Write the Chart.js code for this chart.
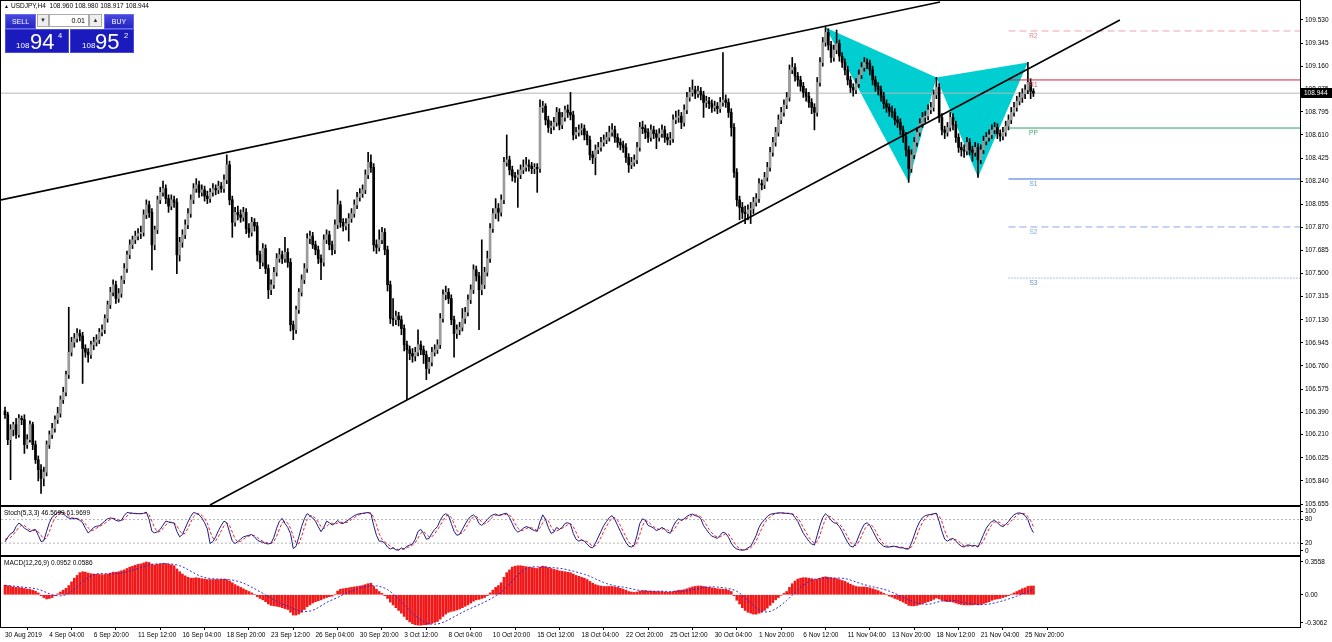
<!DOCTYPE html>
<html>
<head>
<meta charset="utf-8">
<script src="https://cdn.jsdelivr.net/npm/chart.js@4.4.1/dist/chart.umd.min.js"></script>
<style>
  body { margin: 0; background: #fff; width: 1332px; height: 642px; overflow: hidden; position: relative; font-family: "Liberation Sans", Arial, sans-serif; }
  .pane { position: absolute; left: 0; line-height: 0; }
  .pane canvas { display: block; }
  .txt { position: absolute; font-size: 6.5px; color: #000; white-space: nowrap; line-height: 1; }
  .btn { position: absolute; background: linear-gradient(#4646e0, #2525bf); color: #fff; font-size: 7px; text-align: center; line-height: 14px; border: 1px solid #6a6ae8; box-sizing: border-box; }
  .spin { position: absolute; background: #eee; border: 1px solid #aaa; box-sizing: border-box; font-size: 6px; text-align: center; line-height: 11px; color: #333; }
  .lot { position: absolute; background: #fff; border: 1px solid #aaa; box-sizing: border-box; font-size: 7px; text-align: right; line-height: 11px; padding-right: 3px; }
  .px { position: absolute; background: #1b1bbd; border: 1px solid #4a4ad8; box-sizing: border-box; color: #fff; }
  .px span { position: absolute; line-height: 1; }
  .px .s { font-size: 8px; top: 12px; }
  .px .b { font-size: 22px; top: 1px; }
  .px .u { font-size: 7.5px; top: 2px; }
</style>
</head>
<body>
<div class="pane" style="top:0;"><canvas id="mainChart" width="1332" height="506"></canvas></div>
<div class="pane" style="top:506px;"><canvas id="stochChart" width="1332" height="50"></canvas></div>
<div class="pane" style="top:556px;"><canvas id="macdChart" width="1332" height="86"></canvas></div>

<div class="txt" style="left:4px;top:4px;font-size:5px;">▲</div>
<div class="txt" style="left:11px;top:3px;">USDJPY,H4&nbsp; 108.960 108.980 108.917 108.944</div>
<div class="btn" style="left:5px;top:14px;width:31px;height:15px;">SELL</div>
<div class="spin" style="left:37px;top:14px;width:12px;height:13px;">▼</div>
<div class="lot" style="left:49px;top:14px;width:40px;height:13px;">0.01</div>
<div class="spin" style="left:89px;top:14px;width:13px;height:13px;">▲</div>
<div class="btn" style="left:104px;top:14px;width:30px;height:15px;">BUY</div>
<div class="px" style="left:5px;top:29px;width:64px;height:24px;"><span class="s" style="left:10px;">108</span><span class="b" style="left:24px;">94</span><span class="u" style="left:52px;">4</span></div>
<div class="px" style="left:70px;top:29px;width:64px;height:24px;"><span class="s" style="left:11px;">108</span><span class="b" style="left:24px;">95</span><span class="u" style="left:53px;">2</span></div>

<div class="txt" style="left:4px;top:510px;">Stoch(5,3,3) 46.5699 61.9699</div>
<div class="txt" style="left:4px;top:560px;">MACD(12,26,9) 0.0952 0.0586</div>

<script>
// USDJPY H4, 30 Aug 2019 12:00 .. 26 Nov 2019 08:00, one value per bar
const openPx = [
  106.40,106.37,106.17,106.25,106.29,106.21,106.34,106.33,106.13,106.17,
  106.29,106.13,106.01,105.93,105.86,105.91,106.13,106.21,106.26,106.33,
  106.38,106.49,106.55,106.69,106.87,106.95,106.98,107.02,107.00,106.90,
  106.87,106.85,106.93,106.95,106.97,107.03,107.05,107.14,107.25,107.35,
  107.41,107.30,107.34,107.45,107.54,107.65,107.73,107.77,107.80,107.82,
  107.83,107.97,108.05,107.99,107.73,107.85,108.09,108.15,108.18,108.10,
  108.04,108.09,108.07,107.65,107.75,107.81,107.89,107.98,108.09,108.18,
  108.21,108.15,108.17,108.12,108.10,108.15,108.18,108.17,108.20,108.18,
  108.25,108.37,108.09,107.91,107.99,107.97,107.95,107.99,107.86,107.83,
  107.91,107.88,107.65,107.59,107.70,107.54,107.37,107.41,107.51,107.62,
  107.65,107.62,107.67,107.59,107.09,107.05,107.21,107.35,107.45,107.54,
  107.78,107.80,107.73,107.69,107.62,107.59,107.77,107.81,107.73,107.69,
  107.89,108.05,107.91,107.88,107.90,107.94,107.98,108.05,108.11,108.14,
  108.17,108.29,108.39,108.35,107.73,107.71,107.77,107.83,107.69,107.41,
  107.14,107.13,107.16,107.13,107.06,106.93,106.89,106.86,106.84,106.87,
  106.93,106.89,106.85,106.74,106.79,106.87,106.89,106.93,107.14,107.33,
  107.35,107.30,107.13,107.02,107.05,107.07,107.14,107.19,107.29,107.37,
  107.53,107.48,107.37,107.41,107.51,107.62,107.86,107.98,108.02,107.99,
  108.09,108.39,108.41,108.33,108.28,108.27,108.29,108.33,108.35,108.37,
  108.36,108.34,108.35,108.34,108.83,108.84,108.73,108.67,108.68,108.71,
  108.79,108.69,108.75,108.81,108.79,108.77,108.61,108.63,108.65,108.66,
  108.61,108.57,108.45,108.43,108.49,108.51,108.55,108.57,108.59,108.63,
  108.65,108.59,108.55,108.53,108.51,108.43,108.37,108.39,108.41,108.51,
  108.67,108.66,108.63,108.59,108.65,108.62,108.59,108.62,108.65,108.59,
  108.57,108.58,108.73,108.75,108.76,108.71,108.81,108.91,108.95,108.97,
  108.94,108.96,108.93,108.87,108.88,108.86,108.83,108.84,108.82,108.87,
  108.89,108.87,108.79,108.67,108.31,108.09,108.03,107.99,107.98,108.01,
  108.02,108.07,108.10,108.22,108.21,108.27,108.35,108.47,108.55,108.63,
  108.73,108.79,108.85,108.91,109.13,109.15,109.08,109.05,109.00,108.95,
  108.92,108.87,108.83,108.79,109.03,109.19,109.35,109.43,109.33,109.23,
  109.29,109.34,109.24,109.19,109.13,109.05,108.99,108.97,109.02,109.09,
  109.15,109.19,109.18,109.13,109.05,109.00,108.97,108.92,108.86,108.83,
  108.80,108.79,108.73,108.71,108.65,108.60,108.49,108.34,108.45,108.55,
  108.63,108.70,108.75,108.76,108.81,108.83,108.93,108.99,108.75,108.65,
  108.63,108.67,108.75,108.69,108.59,108.51,108.49,108.48,108.55,108.49,
  108.47,108.51,108.41,108.49,108.56,108.59,108.61,108.65,108.67,108.62,
  108.60,108.63,108.68,108.73,108.79,108.83,108.88,108.91,108.94,108.97,
  109.03,108.96
];
const highPx = [
  106.43,106.39,106.29,106.31,106.34,106.37,106.36,106.37,106.21,106.32,
  106.31,106.16,106.04,105.97,105.95,106.16,106.24,106.30,106.36,106.43,
  106.52,106.59,106.72,107.23,106.99,107.02,107.06,107.05,107.03,106.93,
  106.90,106.96,106.99,107.01,107.06,107.09,107.17,107.28,107.39,107.45,
  107.44,107.38,107.48,107.58,107.68,107.77,107.80,107.84,107.86,107.88,
  108.01,108.09,108.08,108.02,107.88,108.12,108.19,108.24,108.21,108.13,
  108.13,108.12,108.10,107.79,107.85,107.93,108.02,108.13,108.22,108.26,
  108.24,108.21,108.20,108.16,108.18,108.22,108.21,108.24,108.23,108.29,
  108.45,108.40,108.12,108.03,108.04,108.01,108.03,108.02,107.90,107.95,
  107.94,107.91,107.68,107.74,107.73,107.57,107.45,107.55,107.66,107.70,
  107.68,107.79,107.70,107.62,107.12,107.24,107.38,107.49,107.58,107.82,
  107.84,107.83,107.76,107.72,107.65,107.81,107.85,107.84,107.76,107.93,
  108.17,108.08,107.94,107.94,107.98,108.02,108.09,108.15,108.18,108.21,
  108.33,108.47,108.45,108.38,107.77,107.85,107.87,107.86,107.72,107.44,
  107.30,107.20,107.19,107.16,107.09,106.96,106.92,106.90,106.91,107.05,
  106.96,106.92,106.88,106.83,106.91,106.93,106.97,107.18,107.37,107.40,
  107.38,107.33,107.16,107.09,107.11,107.22,107.23,107.33,107.41,107.57,
  107.56,107.51,107.77,107.55,107.68,107.90,108.02,108.10,108.06,108.13,
  108.43,108.61,108.44,108.36,108.31,108.33,108.37,108.41,108.43,108.41,
  108.39,108.38,108.38,108.89,108.88,108.86,108.76,108.72,108.75,108.83,
  108.82,108.79,108.84,108.85,108.95,108.80,108.67,108.69,108.70,108.69,
  108.64,108.60,108.48,108.53,108.55,108.59,108.61,108.63,108.68,108.70,
  108.68,108.62,108.58,108.56,108.54,108.46,108.43,108.45,108.55,108.71,
  108.72,108.69,108.66,108.69,108.68,108.65,108.66,108.69,108.68,108.62,
  108.63,108.77,108.80,108.81,108.79,108.85,108.95,108.99,109.05,109.00,
  109.00,108.99,108.96,108.92,108.91,108.89,108.88,108.87,108.91,109.27,
  108.93,108.90,108.82,108.70,108.34,108.12,108.07,108.04,108.05,108.07,
  108.11,108.14,108.26,108.25,108.31,108.39,108.51,108.59,108.67,108.77,
  108.83,108.89,108.95,109.17,109.23,109.18,109.11,109.08,109.03,108.98,
  108.95,108.90,108.86,109.07,109.23,109.39,109.47,109.46,109.36,109.33,
  109.45,109.37,109.27,109.22,109.16,109.08,109.02,109.06,109.13,109.19,
  109.23,109.22,109.21,109.16,109.08,109.03,109.00,108.95,108.89,108.86,
  108.84,108.82,108.76,108.74,108.68,108.63,108.52,108.49,108.59,108.67,
  108.74,108.79,108.80,108.85,108.87,108.97,109.07,109.02,108.78,108.68,
  108.71,108.79,108.78,108.72,108.62,108.55,108.53,108.59,108.58,108.52,
  108.55,108.54,108.53,108.60,108.63,108.65,108.69,108.71,108.70,108.65,
  108.67,108.72,108.77,108.83,108.87,108.92,108.95,108.98,109.01,109.19,
  109.06,108.98
];
const lowPx = [
  106.34,106.13,105.85,106.20,106.18,106.19,106.29,106.06,106.10,106.15,
  106.09,105.98,105.84,105.74,105.80,105.88,106.10,106.18,106.23,106.30,
  106.35,106.46,106.52,106.66,106.84,106.91,106.95,106.96,106.62,106.83,
  106.79,106.82,106.89,106.92,106.94,107.00,107.02,107.11,107.22,107.32,
  107.26,107.27,107.31,107.42,107.51,107.62,107.70,107.74,107.77,107.78,
  107.80,107.94,107.95,107.53,107.69,107.82,108.06,108.12,108.06,107.99,
  108.01,108.03,107.50,107.60,107.71,107.78,107.86,107.95,108.06,108.15,
  108.11,108.12,108.08,108.06,108.07,108.12,108.13,108.14,108.15,108.15,
  108.22,108.05,107.79,107.88,107.93,107.91,107.92,107.82,107.79,107.80,
  107.84,107.60,107.54,107.56,107.50,107.30,107.33,107.38,107.48,107.59,
  107.58,107.59,107.55,107.04,106.97,107.02,107.18,107.32,107.42,107.51,
  107.74,107.70,107.65,107.58,107.45,107.56,107.74,107.69,107.65,107.66,
  107.86,107.87,107.84,107.85,107.76,107.91,107.95,108.02,108.08,108.11,
  108.14,108.26,108.31,107.68,107.66,107.68,107.74,107.65,107.36,107.10,
  107.08,107.09,107.08,107.01,106.88,106.49,106.81,106.79,106.80,106.84,
  106.85,106.78,106.65,106.70,106.76,106.84,106.86,106.90,107.11,107.29,
  107.26,107.09,106.83,106.98,107.01,107.04,107.10,107.16,107.26,107.34,
  107.44,107.05,107.33,107.38,107.48,107.59,107.83,107.94,107.92,107.96,
  108.06,108.36,108.29,108.24,108.23,108.03,108.26,108.30,108.32,108.32,
  108.30,108.30,108.15,108.31,108.79,108.69,108.63,108.62,108.65,108.68,
  108.65,108.66,108.72,108.75,108.73,108.57,108.58,108.60,108.61,108.57,
  108.53,108.41,108.38,108.29,108.46,108.48,108.52,108.54,108.56,108.60,
  108.55,108.51,108.49,108.47,108.39,108.31,108.34,108.36,108.38,108.48,
  108.62,108.58,108.55,108.56,108.58,108.50,108.56,108.59,108.55,108.53,
  108.53,108.55,108.70,108.71,108.66,108.68,108.78,108.88,108.92,108.90,
  108.91,108.89,108.75,108.83,108.82,108.79,108.80,108.78,108.79,108.84,
  108.83,108.75,108.60,108.27,108.04,107.93,107.94,107.90,107.93,107.90,
  107.98,108.04,108.07,108.17,108.18,108.24,108.32,108.44,108.52,108.60,
  108.70,108.76,108.82,108.88,109.10,109.04,109.00,108.96,108.91,108.88,
  108.83,108.78,108.65,108.76,109.00,109.16,109.32,109.29,109.19,109.20,
  109.26,109.20,109.15,109.09,109.01,108.95,108.92,108.94,108.99,109.06,
  109.12,109.14,109.09,109.01,108.96,108.93,108.88,108.82,108.79,108.76,
  108.75,108.69,108.67,108.61,108.55,108.44,108.23,108.31,108.42,108.52,
  108.60,108.67,108.71,108.73,108.78,108.80,108.90,108.71,108.61,108.58,
  108.60,108.64,108.65,108.55,108.47,108.44,108.43,108.45,108.45,108.40,
  108.44,108.27,108.38,108.46,108.53,108.56,108.58,108.62,108.58,108.56,
  108.57,108.60,108.65,108.70,108.76,108.80,108.85,108.87,108.90,108.94,
  108.90,108.917
];
const closePx = [
  106.37,106.17,106.25,106.29,106.21,106.34,106.33,106.13,106.17,106.29,
  106.13,106.01,105.93,105.86,105.91,106.13,106.21,106.26,106.33,106.38,
  106.49,106.55,106.69,106.87,106.95,106.98,107.02,107.00,106.90,106.87,
  106.85,106.93,106.95,106.97,107.03,107.05,107.14,107.25,107.35,107.41,
  107.30,107.34,107.45,107.54,107.65,107.73,107.77,107.80,107.82,107.83,
  107.97,108.05,107.99,107.73,107.85,108.09,108.15,108.18,108.10,108.04,
  108.09,108.07,107.65,107.75,107.81,107.89,107.98,108.09,108.18,108.21,
  108.15,108.17,108.12,108.10,108.15,108.18,108.17,108.20,108.18,108.25,
  108.37,108.09,107.91,107.99,107.97,107.95,107.99,107.86,107.83,107.91,
  107.88,107.65,107.59,107.70,107.54,107.37,107.41,107.51,107.62,107.65,
  107.62,107.67,107.59,107.09,107.05,107.21,107.35,107.45,107.54,107.78,
  107.80,107.73,107.69,107.62,107.59,107.77,107.81,107.73,107.69,107.89,
  108.05,107.91,107.88,107.90,107.94,107.98,108.05,108.11,108.14,108.17,
  108.29,108.39,108.35,107.73,107.71,107.77,107.83,107.69,107.41,107.14,
  107.13,107.16,107.13,107.06,106.93,106.89,106.86,106.84,106.87,106.93,
  106.89,106.85,106.74,106.79,106.87,106.89,106.93,107.14,107.33,107.35,
  107.30,107.13,107.02,107.05,107.07,107.14,107.19,107.29,107.37,107.53,
  107.48,107.37,107.41,107.51,107.62,107.86,107.98,108.02,107.99,108.09,
  108.39,108.41,108.33,108.28,108.27,108.29,108.33,108.35,108.37,108.36,
  108.34,108.35,108.34,108.83,108.84,108.73,108.67,108.68,108.71,108.79,
  108.69,108.75,108.81,108.79,108.77,108.61,108.63,108.65,108.66,108.61,
  108.57,108.45,108.43,108.49,108.51,108.55,108.57,108.59,108.63,108.65,
  108.59,108.55,108.53,108.51,108.43,108.37,108.39,108.41,108.51,108.67,
  108.66,108.63,108.59,108.65,108.62,108.59,108.62,108.65,108.59,108.57,
  108.58,108.73,108.75,108.76,108.71,108.81,108.91,108.95,108.97,108.94,
  108.96,108.93,108.87,108.88,108.86,108.83,108.84,108.82,108.87,108.89,
  108.87,108.79,108.67,108.31,108.09,108.03,107.99,107.98,108.01,108.02,
  108.07,108.10,108.22,108.21,108.27,108.35,108.47,108.55,108.63,108.73,
  108.79,108.85,108.91,109.13,109.15,109.08,109.05,109.00,108.95,108.92,
  108.87,108.83,108.79,109.03,109.19,109.35,109.43,109.33,109.23,109.29,
  109.34,109.24,109.19,109.13,109.05,108.99,108.97,109.02,109.09,109.15,
  109.19,109.18,109.13,109.05,109.00,108.97,108.92,108.86,108.83,108.80,
  108.79,108.73,108.71,108.65,108.60,108.49,108.34,108.45,108.55,108.63,
  108.70,108.75,108.76,108.81,108.83,108.93,108.99,108.75,108.65,108.63,
  108.67,108.75,108.69,108.59,108.51,108.49,108.48,108.55,108.49,108.47,
  108.51,108.41,108.49,108.56,108.59,108.61,108.65,108.67,108.62,108.60,
  108.63,108.68,108.73,108.79,108.83,108.88,108.91,108.94,108.97,109.03,
  108.96,108.944
];

// Stochastic (5,3,3): main %K and signal %D
const stochK = [
  23,35,44,48,62,71,66,58,54,49, 53,55,40,24,26,50,72,86,92,98,
  100,96,88,84,82,83,82,78,72,58, 46,52,60,63,64,70,76,82,84,83,
  78,76,78,90,98,97,96,95,95,95, 96,99,80,50,46,49,55,66,76,74,
  72,71,50,36,42,58,74,88,98,96, 92,84,72,56,19,24,36,52,65,76,
  72,48,25,19,24,30,36,38,40,42, 36,28,24,22,19,18,20,35,58,76,
  83,70,60,44,6,12,36,62,82,95, 90,84,76,62,49,60,76,72,66,70,
  78,71,70,75,80,85,90,93,95,96, 97,98,95,65,40,25,25,20,10,5,
  8,3,2,8,5,12,15,18,30,50, 55,45,30,32,45,55,62,78,90,95,
  90,70,50,40,42,55,68,80,88,92, 85,70,65,72,80,88,92,94,90,92,
  95,96,85,70,55,48,52,58,62,60, 55,52,50,75,92,80,60,45,48,60,
  55,60,70,72,68,45,30,25,28,25, 18,10,8,20,35,50,65,75,85,90,
  80,65,50,35,22,12,10,15,40,70, 82,78,65,62,58,52,55,60,55,48,
  45,62,75,82,78,82,88,92,94,90, 88,82,65,55,45,38,35,32,40,48,
  45,35,20,10,5,3,2,3,8,12, 25,40,60,72,80,88,93,95,96,97,
  97,96,96,95,94,85,75,60,45,35, 25,18,15,40,65,85,95,88,78,72,
  70,62,50,35,22,12,10,20,38,55, 68,72,65,52,38,25,18,12,10,10,
  12,12,10,8,8,5,5,20,40,60, 75,85,90,92,93,95,96,75,50,30,
  25,30,32,25,18,12,10,15,15,12, 14,10,25,42,58,68,75,78,72,65,
  62,68,75,85,92,96,97,95,90,80, 60,46.57
];
const stochD = [
  30,32,34,42,51,60,66,65,59,54, 52,52,49,40,30,33,49,69,83,92,
  97,98,95,89,85,83,82,81,77,69, 59,52,53,58,62,66,70,76,81,83,
  82,79,77,81,89,95,97,96,95,95, 95,97,92,76,59,48,50,57,66,72,
  74,72,64,52,43,45,58,73,87,94, 95,91,83,71,49,33,26,37,51,64,
  71,65,48,31,23,24,30,35,38,40, 39,35,29,25,22,20,19,24,38,56,
  72,76,71,58,37,21,18,37,60,80, 89,90,83,74,62,57,62,69,71,69,
  71,73,73,72,75,80,85,89,93,95, 96,97,97,86,67,43,30,23,18,12,
  8,5,4,4,5,8,11,15,21,33, 45,50,43,36,36,44,54,65,77,88,
  92,85,70,53,44,46,55,68,79,87, 88,82,73,69,72,80,87,91,92,92,
  92,94,92,84,70,58,52,53,57,60, 59,56,52,59,72,82,77,62,51,51,
  54,58,62,67,70,62,48,33,28,26, 24,18,12,13,21,35,50,63,75,83,
  85,78,65,50,36,23,15,12,22,42, 64,77,75,68,62,57,55,56,57,54,
  49,52,61,73,78,81,83,87,91,92, 91,87,78,67,55,46,39,35,36,40,
  44,43,33,22,12,6,3,3,4,8, 15,26,42,57,71,80,87,92,95,96,
  97,97,96,96,95,91,85,73,60,47, 35,26,19,24,40,63,82,89,87,79,
  73,68,61,49,36,23,15,14,23,38, 54,65,68,63,52,38,27,18,13,11,
  11,11,11,10,9,7,6,10,22,40, 58,73,83,89,92,93,95,89,74,52,
  35,28,29,29,25,18,13,12,13,14, 14,12,16,26,42,56,67,74,75,72,
  66,65,68,76,84,91,95,96,94,88, 77,61.97
];

// MACD (12,26,9): main histogram and signal
const macdMain = [
  0.105,0.098,0.09,0.085,0.08,0.078,0.075,0.068,0.062,0.058,
  0.05,0.038,0.02,-0.01,-0.03,-0.045,-0.04,-0.03,-0.01,0.01,
  0.03,0.05,0.07,0.10,0.14,0.18,0.21,0.24,0.25,0.245,
  0.235,0.228,0.225,0.222,0.22,0.218,0.22,0.225,0.235,0.245,
  0.245,0.25,0.26,0.27,0.285,0.30,0.31,0.32,0.33,0.335,
  0.345,0.356,0.35,0.33,0.325,0.33,0.335,0.34,0.338,0.33,
  0.325,0.315,0.28,0.25,0.225,0.205,0.19,0.18,0.18,0.185,
  0.18,0.175,0.17,0.165,0.165,0.165,0.165,0.165,0.168,0.17,
  0.165,0.15,0.13,0.11,0.095,0.08,0.065,0.05,0.035,0.02,
  0.005,-0.02,-0.04,-0.055,-0.075,-0.1,-0.115,-0.12,-0.125,-0.13,
  -0.14,-0.15,-0.16,-0.19,-0.22,-0.22,-0.21,-0.19,-0.16,-0.13,
  -0.11,-0.09,-0.075,-0.065,-0.055,-0.04,-0.03,-0.02,-0.015,0.0,
  0.04,0.06,0.065,0.07,0.075,0.08,0.085,0.09,0.095,0.10,
  0.11,0.12,0.125,0.09,0.06,0.035,0.015,-0.01,-0.04,-0.08,
  -0.11,-0.14,-0.17,-0.2,-0.235,-0.27,-0.295,-0.315,-0.325,-0.33,
  -0.33,-0.325,-0.325,-0.32,-0.31,-0.30,-0.29,-0.265,-0.235,-0.21,
  -0.19,-0.18,-0.175,-0.165,-0.155,-0.14,-0.125,-0.11,-0.09,-0.07,
  -0.055,-0.05,-0.04,-0.03,-0.01,0.02,0.05,0.08,0.10,0.13,
  0.19,0.24,0.27,0.30,0.31,0.315,0.315,0.31,0.305,0.30,
  0.295,0.29,0.285,0.30,0.31,0.305,0.295,0.285,0.275,0.27,
  0.26,0.255,0.25,0.245,0.24,0.225,0.21,0.20,0.19,0.18,
  0.165,0.145,0.125,0.11,0.10,0.095,0.09,0.09,0.09,0.09,
  0.085,0.08,0.07,0.06,0.05,0.035,0.03,0.025,0.03,0.04,
  0.045,0.045,0.04,0.04,0.038,0.035,0.035,0.035,0.03,0.028,
  0.028,0.035,0.042,0.05,0.05,0.055,0.065,0.075,0.085,0.09,
  0.095,0.095,0.09,0.085,0.08,0.075,0.07,0.065,0.062,0.06,
  0.058,0.05,0.035,-0.01,-0.06,-0.10,-0.14,-0.17,-0.19,-0.20,
  -0.21,-0.21,-0.2,-0.19,-0.17,-0.145,-0.115,-0.085,-0.055,-0.03,
  -0.005,0.015,0.035,0.08,0.12,0.15,0.17,0.18,0.185,0.185,
  0.18,0.175,0.165,0.17,0.18,0.19,0.195,0.19,0.185,0.18,
  0.175,0.165,0.155,0.145,0.13,0.115,0.10,0.09,0.085,0.085,
  0.085,0.08,0.075,0.065,0.055,0.045,0.03,0.015,0.0,-0.015,
  -0.025,-0.04,-0.05,-0.065,-0.08,-0.095,-0.115,-0.12,-0.12,-0.115,
  -0.105,-0.095,-0.085,-0.075,-0.065,-0.05,-0.035,-0.045,-0.06,-0.07,
  -0.075,-0.075,-0.08,-0.09,-0.10,-0.105,-0.11,-0.11,-0.11,-0.11,
  -0.105,-0.11,-0.105,-0.095,-0.085,-0.075,-0.06,-0.05,-0.045,-0.04,
  -0.03,-0.02,-0.01,0.005,0.02,0.035,0.05,0.065,0.075,0.09,
  0.095,0.0952
];
const macdSignal = [
  0.10,0.10,0.098,0.095,0.092,0.088,0.085,0.081,0.078,0.075,
  0.072,0.066,0.059,0.049,0.037,0.023,0.011,0.001,-0.006,-0.011,
  -0.012,-0.008,0.001,0.015,0.036,0.06,0.087,0.114,0.141,0.165,
  0.186,0.203,0.217,0.226,0.231,0.231,0.229,0.226,0.225,0.226,
  0.228,0.231,0.235,0.241,0.248,0.257,0.267,0.276,0.286,0.296,
  0.306,0.317,0.326,0.331,0.333,0.336,0.337,0.338,0.339,0.337,
  0.334,0.33,0.324,0.316,0.304,0.29,0.273,0.256,0.239,0.223,
  0.208,0.197,0.188,0.181,0.177,0.174,0.172,0.171,0.169,0.168,
  0.166,0.164,0.16,0.154,0.146,0.137,0.126,0.113,0.098,0.082,
  0.066,0.049,0.032,0.016,-0.002,-0.02,-0.038,-0.056,-0.072,-0.087,
  -0.1,-0.112,-0.124,-0.137,-0.15,-0.162,-0.172,-0.179,-0.182,-0.181,
  -0.177,-0.169,-0.156,-0.139,-0.121,-0.102,-0.084,-0.068,-0.056,-0.043,
  -0.029,-0.014,0.001,0.014,0.027,0.039,0.051,0.063,0.073,0.08,
  0.086,0.092,0.098,0.099,0.097,0.092,0.083,0.072,0.056,0.035,
  0.009,-0.02,-0.049,-0.078,-0.108,-0.139,-0.171,-0.202,-0.229,-0.253,
  -0.274,-0.292,-0.306,-0.315,-0.319,-0.32,-0.317,-0.311,-0.3,-0.287,
  -0.272,-0.256,-0.239,-0.223,-0.207,-0.191,-0.175,-0.161,-0.148,-0.134,
  -0.121,-0.107,-0.093,-0.079,-0.064,-0.048,-0.031,-0.012,0.007,0.028,
  0.054,0.086,0.119,0.153,0.186,0.215,0.241,0.264,0.284,0.296,
  0.302,0.304,0.303,0.302,0.301,0.3,0.298,0.296,0.293,0.291,
  0.287,0.284,0.278,0.271,0.264,0.256,0.248,0.239,0.231,0.222,
  0.212,0.2,0.187,0.172,0.158,0.146,0.133,0.122,0.112,0.104,
  0.097,0.092,0.088,0.083,0.078,0.072,0.066,0.058,0.052,0.047,
  0.043,0.04,0.038,0.037,0.037,0.038,0.039,0.039,0.038,0.036,
  0.034,0.034,0.034,0.035,0.037,0.039,0.043,0.048,0.054,0.061,
  0.067,0.073,0.078,0.082,0.084,0.086,0.085,0.083,0.08,0.076,
  0.072,0.067,0.062,0.052,0.037,0.018,-0.005,-0.031,-0.059,-0.087,
  -0.116,-0.143,-0.164,-0.179,-0.187,-0.187,-0.181,-0.169,-0.153,-0.133,
  -0.111,-0.087,-0.062,-0.034,-0.004,0.025,0.053,0.079,0.103,0.124,
  0.143,0.158,0.168,0.173,0.177,0.179,0.181,0.181,0.181,0.181,
  0.181,0.181,0.179,0.176,0.169,0.16,0.15,0.139,0.129,0.119,
  0.11,0.102,0.094,0.087,0.08,0.074,0.067,0.059,0.05,0.039,
  0.027,0.014,0.002,-0.012,-0.026,-0.039,-0.054,-0.067,-0.079,-0.089,
  -0.096,-0.101,-0.103,-0.103,-0.099,-0.092,-0.083,-0.074,-0.068,-0.064,
  -0.062,-0.061,-0.062,-0.064,-0.07,-0.078,-0.085,-0.091,-0.095,-0.099,
  -0.102,-0.106,-0.107,-0.107,-0.104,-0.101,-0.095,-0.088,-0.081,-0.074,
  -0.065,-0.056,-0.046,-0.036,-0.026,-0.015,-0.004,0.008,0.021,0.034,
  0.047,0.0586
];

// axis labels
const priceTicks = [109.530,109.345,109.160,108.975,108.795,108.610,108.425,108.240,108.055,107.870,107.685,
  107.500,107.315,107.130,106.945,106.760,106.575,106.390,106.210,106.025,105.840,105.655];
const timeTickIdx = [0,16,32,48,64,80,96,112,128,144,160,176,192,208,224,240,256,272,288,304,320,336,352,368];
const timeLabels = ['30 Aug 2019','4 Sep 04:00','6 Sep 20:00','11 Sep 12:00','16 Sep 04:00','18 Sep 20:00',
  '23 Sep 12:00','26 Sep 04:00','30 Sep 20:00','3 Oct 12:00','8 Oct 04:00','10 Oct 20:00','15 Oct 12:00',
  '18 Oct 04:00','22 Oct 20:00','25 Oct 12:00','30 Oct 04:00','1 Nov 20:00','6 Nov 12:00','11 Nov 04:00',
  '13 Nov 20:00','18 Nov 12:00','21 Nov 04:00','25 Nov 20:00'];
const stochTicks = [100, 80, 20, 0];
const stochLevels = [80, 20];
const macdTicks = [0.3558, 0, -0.3062];
const macdTickLabels = ['0.3558', '0.00', '-0.3062'];

// objects on the chart
const bidPrice = 108.944;
const upperLineIdx = [-1.44, 337.3];
const upperLinePrice = [108.09, 109.674];
const lowerLineIdx = [73.95, 402.2];
const lowerLinePrice = [105.647, 109.53];
const patternIdx = [296, 326, 336, 351, 369];      // X, A, B, C, D
const patternPrice = [109.47, 108.23, 109.07, 108.27, 109.19];
const pivotNames = ['R2', 'R1', 'PP', 'S1', 'S2', 'S3'];
const pivotLevels = [109.442, 109.050, 108.665, 108.257, 107.873, 107.464];
const pivotFrom = 362;
const pivotLabelIdx = 371;

const pivotStyle = [
    { line: '#eca4ab', dash: [7, 4], text: '#e0848e' },
    { line: '#c8283c', dash: [], text: '#d04a5c' },
    { line: '#2e9e62', dash: [], text: '#3aa870' },
    { line: '#3a6cd2', dash: [], text: '#6d98de' },
    { line: '#8aaae4', dash: [7, 4], text: '#8aaae4' },
    { line: '#5b86d6', dash: [1, 2], text: '#6b90d8' }
];

const X_MIN = -1.443, X_MAX = 467.17;
const FONT = '"Liberation Sans", Arial, sans-serif';

Chart.defaults.font.family = FONT;
Chart.defaults.font.size = 6.5;
Chart.defaults.color = '#000';
Chart.defaults.animation = false;
Chart.defaults.events = [];
Chart.defaults.plugins.legend.display = false;
Chart.defaults.plugins.tooltip.enabled = false;

const idx = closePx.map((c, i) => i);

function noPad(s) {
    s.paddingLeft = 0; s.paddingRight = 0; s.paddingTop = 0; s.paddingBottom = 0;
}

function xAxis(show) {
    const axis = {
        type: 'linear', min: X_MIN, max: X_MAX, offset: false, display: show,
        grid: { display: show, drawOnChartArea: false, drawTicks: true, tickLength: 3, color: '#000' },
        border: { display: false },
        afterBuildTicks: (s) => { s.ticks = timeTickIdx.map(v => ({ value: v })); },
        ticks: { autoSkip: false, maxRotation: 0, minRotation: 0, align: 'start', padding: 1,
                 callback: (v, i) => timeLabels[i] }
    };
    if (show) axis.afterFit = (s) => { s.height = 15; noPad(s); };
    return axis;
}

function yAxis(min, max, tickValues, fmt) {
    return {
        position: 'right', min: min, max: max,
        afterBuildTicks: (s) => { s.ticks = tickValues.map(v => ({ value: v })); },
        afterFit: (s) => { s.width = 32; noPad(s); },
        ticks: { autoSkip: false, padding: 2, callback: fmt },
        grid: { drawOnChartArea: false, drawTicks: true, tickLength: 3, color: '#000' },
        border: { display: false }
    };
}

// black frame round each panel
const frame = {
    id: 'frame',
    afterDraw(chart) {
        const { ctx, chartArea: a } = chart;
        ctx.save();
        ctx.strokeStyle = '#000';
        ctx.lineWidth = 1;
        ctx.strokeRect(Math.round(a.left) - 0.5, Math.round(a.top) - 0.5,
                       Math.round(a.right - a.left) + 1, Math.round(a.bottom - a.top) + 1);
        ctx.restore();
    }
};

// harmonic pattern triangles XAB and BCD, behind the candles
const butterfly = {
    id: 'butterfly',
    beforeDatasetsDraw(chart) {
        const { ctx, chartArea: a, scales: { x, y } } = chart;
        ctx.save();
        ctx.beginPath();
        ctx.rect(a.left, a.top, a.right - a.left, a.bottom - a.top);
        ctx.clip();
        ctx.fillStyle = '#00ced1';
        [[0, 1, 2], [2, 3, 4]].forEach(tri => {
            ctx.beginPath();
            tri.forEach((k, j) => {
                const px = x.getPixelForValue(patternIdx[k]);
                const py = y.getPixelForValue(patternPrice[k]);
                if (j === 0) ctx.moveTo(px, py); else ctx.lineTo(px, py);
            });
            ctx.closePath();
            ctx.fill();
        });
        ctx.restore();
    }
};

// pivot names and the bid price box
const mainLabels = {
    id: 'mainLabels',
    afterDraw(chart) {
        const { ctx, chartArea: a, scales: { x, y } } = chart;
        ctx.save();
        ctx.font = '6.5px ' + FONT;
        ctx.textAlign = 'center';
        ctx.textBaseline = 'top';
        pivotNames.forEach((name, k) => {
            ctx.fillStyle = pivotStyle[k].text;
            ctx.fillText(name, x.getPixelForValue(pivotLabelIdx), y.getPixelForValue(pivotLevels[k]) + 2);
        });
        const yb = Math.round(y.getPixelForValue(bidPrice));
        ctx.fillStyle = '#000';
        ctx.fillRect(a.right + 1, yb - 5, 31, 10);
        ctx.fillStyle = '#fff';
        ctx.textAlign = 'left';
        ctx.textBaseline = 'middle';
        ctx.fillText(bidPrice.toFixed(3), a.right + 4, yb + 0.5);
        ctx.restore();
    }
};

function seg(xs, ys) {
    return xs.map((v, k) => ({ x: v, y: ys[k] }));
}

const mainDatasets = [
    {
        type: 'line', data: seg([X_MIN, X_MAX], [bidPrice, bidPrice]),
        borderColor: '#b8b8b8', borderWidth: 1, pointRadius: 0, order: 6
    },
    {
        type: 'bar', data: idx.map(i => ({ x: i, y: [lowPx[i], highPx[i]] })),
        backgroundColor: '#000', barThickness: 1, grouped: false, order: 5
    },
    {
        type: 'bar', data: idx.map(i => ({ x: i, y: [openPx[i], closePx[i]] })),
        backgroundColor: idx.map(i => closePx[i] >= openPx[i] ? '#9c9c9c' : '#000'),
        barThickness: 2, grouped: false, order: 4
    },
    ...pivotLevels.map((lv, k) => ({
        type: 'line', data: seg([pivotFrom, X_MAX], [lv, lv]),
        borderColor: pivotStyle[k].line, borderDash: pivotStyle[k].dash,
        borderWidth: 1, pointRadius: 0, order: 3
    })),
    {
        type: 'line', data: seg(upperLineIdx, upperLinePrice),
        borderColor: '#000', borderWidth: 1.6, pointRadius: 0, order: 1
    },
    {
        type: 'line', data: seg(lowerLineIdx, lowerLinePrice),
        borderColor: '#000', borderWidth: 1.6, pointRadius: 0, order: 1
    }
];

new Chart(document.getElementById('mainChart'), {
    type: 'bar',
    data: { datasets: mainDatasets },
    options: {
        responsive: false,
        layout: { padding: { left: 1, top: 1, bottom: 1, right: 0 } },
        scales: {
            x: xAxis(false),
            y: yAxis(105.647, 109.682, priceTicks, v => v.toFixed(3))
        }
    },
    plugins: [butterfly, frame, mainLabels]
});

new Chart(document.getElementById('stochChart'), {
    type: 'line',
    data: {
        datasets: [
            ...stochLevels.map(lv => ({
                data: seg([X_MIN, X_MAX], [lv, lv]),
                borderColor: '#b4b4b4', borderDash: [2, 2], borderWidth: 1, pointRadius: 0, order: 3
            })),
            {
                data: idx.map(i => ({ x: i, y: stochD[i] })),
                borderColor: '#e8202a', borderDash: [3, 2], borderWidth: 1, pointRadius: 0, order: 2
            },
            {
                data: idx.map(i => ({ x: i, y: stochK[i] })),
                borderColor: '#1c1c86', borderWidth: 1, pointRadius: 0, order: 1
            }
        ]
    },
    options: {
        responsive: false,
        layout: { padding: { left: 1, top: 1, bottom: 1, right: 0 } },
        scales: {
            x: xAxis(false),
            y: yAxis(-10.18, 111.96, stochTicks, v => String(v))
        }
    },
    plugins: [frame]
});

new Chart(document.getElementById('macdChart'), {
    type: 'bar',
    data: {
        datasets: [
            {
                type: 'line', data: idx.map(i => ({ x: i, y: macdSignal[i] })),
                borderColor: '#2a2ad8', borderDash: [2, 2], borderWidth: 1, pointRadius: 0, order: 1
            },
            {
                type: 'bar', data: idx.map(i => ({ x: i, y: macdMain[i] })),
                backgroundColor: '#f01818', barThickness: 2, grouped: false, order: 2
            }
        ]
    },
    options: {
        responsive: false,
        layout: { padding: { left: 1, top: 1, bottom: 0, right: 0 } },
        scales: {
            x: xAxis(true),
            y: yAxis(-0.350, 0.410, macdTicks, (v, i) => macdTickLabels[i])
        }
    },
    plugins: [frame]
});
</script>
</body>
</html>
